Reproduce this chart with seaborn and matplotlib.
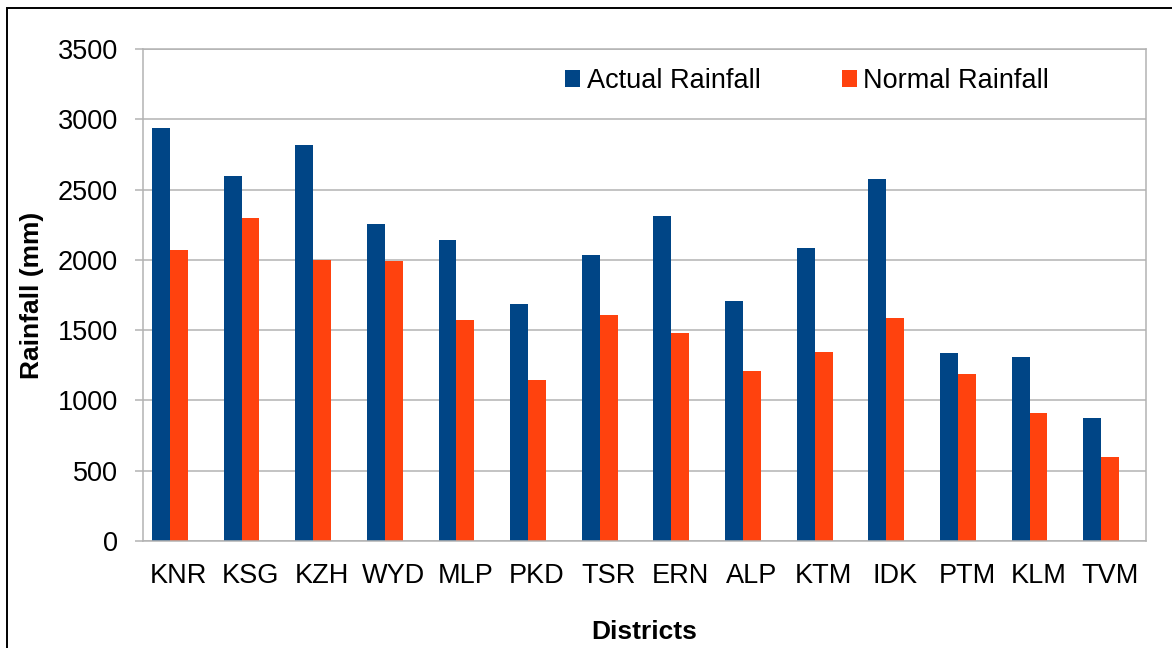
import seaborn as sns
import pandas as pd
import numpy as np
import matplotlib.pyplot as plt
from matplotlib.patches import Rectangle, Patch

districts=['KNR','KSG','KZH','WYD','MLP','PKD','TSR','ERN','ALP','KTM','IDK','PTM','KLM','TVM']
actual=[2937,2594,2816,2252,2140,1683,2038,2311,1708,2081,2574,1336,1307,878]
normal=[2067,2295,2000,1993,1569,1142,1606,1478,1208,1345,1583,1186,911,596]
series_names=['Actual Rainfall','Normal Rainfall']
colors=['#004586','#ff420e']
yticks=[0,500,1000,1500,2000,2500,3000,3500]

def main():
    df=pd.DataFrame({'district':districts*2
                     ,'rainfall':actual+normal
                     ,'series':[series_names[0]]*len(districts)+[series_names[1]]*len(districts)})

    sns.set_style('white')
    plt.rcParams['font.family']=['Liberation Sans','DejaVu Sans']
    plt.rcParams['text.color']='black'
    plt.rcParams['axes.labelcolor']='black'
    plt.rcParams['xtick.color']='black'
    plt.rcParams['ytick.color']='black'

    fig=plt.figure(figsize=(11.72,6.48),dpi=100)
    ax=fig.add_axes([143/1172,1-541/648,(1146-143)/1172,(541-49)/648])

    sns.barplot(data=df,x='district',y='rainfall',hue='series',order=districts,hue_order=series_names
                ,palette=colors,width=0.5,saturation=1,errorbar=None,legend=False,ax=ax
                ,linewidth=0)

    grey='#b3b3b3'
    ax.set_ylim(0,3500)
    ax.set_yticks(yticks)
    ax.set_yticklabels([str(v) for v in yticks],fontsize=19.5)
    ax.yaxis.grid(True,color=grey,linewidth=1.1)
    ax.set_axisbelow(True)

    # bars sit in the left part of each category slot, labels in the slot middle
    n=len(districts)
    ax.set_xlim(-0.375,n-0.375)
    ax.set_xticks(np.arange(n)+0.125)
    ax.set_xticklabels(districts,fontsize=19.5)
    ax.set_xticks(np.arange(n+1)-0.375,minor=True)
    ax.tick_params(axis='x',which='major',length=0,pad=16,labelcolor='black')
    ax.tick_params(axis='x',which='minor',length=5,width=1.1,color=grey,direction='out')
    ax.tick_params(axis='y',length=6,width=1.1,color=grey,direction='out',pad=12,left=True,labelcolor='black')
    for s in ax.spines.values():
        s.set_color(grey)
        s.set_linewidth(1.1)

    ax.set_xlabel('Districts',fontsize=19,fontweight='bold',labelpad=22,color='black')
    ax.set_ylabel('Rainfall (mm)',fontsize=19,fontweight='bold',labelpad=10,color='black')

    handles=[Patch(facecolor=c,edgecolor='none') for c in colors]
    ax.legend(handles,series_names,loc='center left',bbox_to_anchor=(565/1172,1-81/648)
              ,bbox_transform=fig.transFigure,ncol=2,frameon=False,fontsize=19.5
              ,handlelength=0.55,handleheight=0.55,handletextpad=0.25,columnspacing=3.0
              ,borderpad=0,borderaxespad=0,labelcolor='black')

    # outer frame of the chart area
    fig.add_artist(Rectangle((7/1172,-0.2),1.5,1.2-8/648,transform=fig.transFigure
                             ,fill=False,edgecolor='black',linewidth=1.4))

    fig.savefig('out.png',dpi=100)

if __name__=='__main__':
    main()
